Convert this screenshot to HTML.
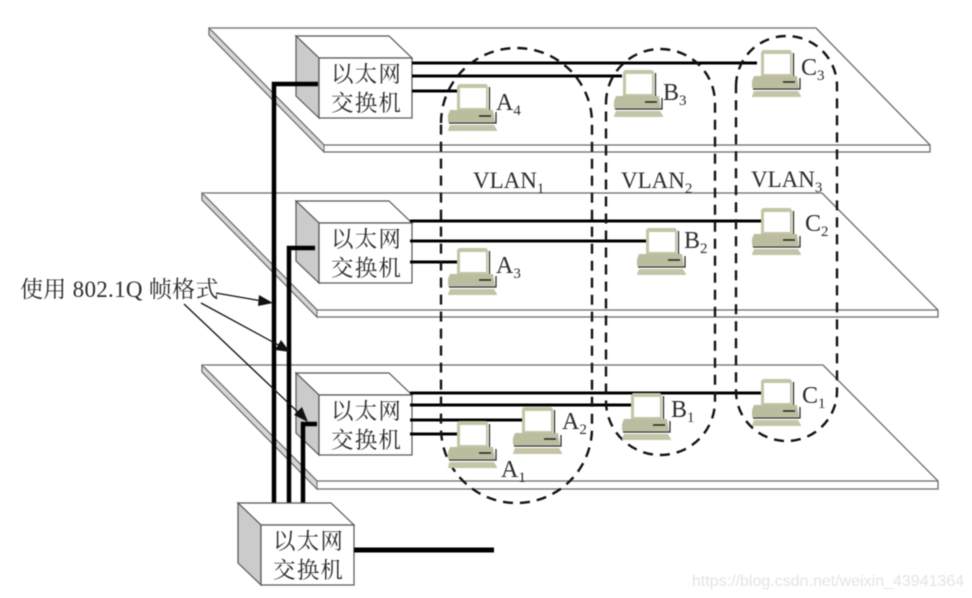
<!DOCTYPE html>
<html><head><meta charset="utf-8">
<style>
html,body{margin:0;padding:0;background:#fff;width:972px;height:598px;overflow:hidden}
svg{display:block}
#all{filter:blur(.45px)}
text{font-family:"Liberation Serif","Noto Serif CJK SC",serif;fill:#2b2b2b}
.cn{font-size:22.5px;letter-spacing:1.2px}
.lb{font-size:24px}
.sub{font-size:15px}
.vl{font-size:23px}
.plate{fill:#fff;stroke:#6a6a6a;stroke-width:1.3}
.dash{fill:none;stroke:#111;stroke-width:2.4;stroke-dasharray:10 7}
.th{stroke:#000;stroke-width:3;fill:none}
.tk{stroke:#000;stroke-width:4.5;fill:none}
.ar{stroke:#111;stroke-width:1.3;fill:none}
</style></head>
<body>
<svg width="972" height="598" viewBox="0 0 972 598" xmlns="http://www.w3.org/2000/svg">
<defs>
<g id="pc">
<polygon points="9,2 11,0 38,0 40,2 40,26 9,26" fill="#c4c5a6"/>
<rect x="12" y="4" width="26" height="20" fill="#fff"/>
<line x1="41.5" y1="3" x2="41.5" y2="26" stroke="#222" stroke-width="1.2"/>
<polygon points="2,26 45,26 47,38 0,38 0,31" fill="#bcbd9f"/>
<path d="M1 39H48V28" fill="none" stroke="#222" stroke-width="1.2"/>
<line x1="31" y1="32" x2="43" y2="32" stroke="#222" stroke-width="1.5"/>
<polygon points="2,41 46,41 49,46 49,47 0,47 0,46" fill="#c4c5a6"/>
</g>
<g id="sw">
<polygon points="0,0 93,0 116,22 23,22" fill="#fff" stroke="#555" stroke-width="1.2"/>
<polygon points="0,0 23,22 23,82 0,60" fill="#cbcbcb" stroke="#555" stroke-width="1.2"/>
<rect x="23" y="22" width="93" height="60" fill="#fff" stroke="#555" stroke-width="1.2"/>
<text class="cn" x="35" y="46">以太网</text>
<text class="cn" x="35" y="75">交换机</text>
</g>
</defs>

<g id="all">
<!-- plates -->
<polygon class="plate" points="209,28 816,28 930,145 930,152 324,152 209,35"/>
<polyline class="plate" points="209,28 324,145 930,145"/>
<polygon points="209,28 324,145 324,152 209,35" fill="#d6d6d6" stroke="#666"/>

<polygon class="plate" points="202,193 822,193 938,310 938,317 317,317 202,200"/>
<polyline class="plate" points="202,193 317,310 938,310"/>
<polygon points="202,193 317,310 317,317 202,200" fill="#d6d6d6" stroke="#666"/>

<polygon class="plate" points="202,365 823,365 938,481 938,489 317,489 202,372"/>
<polyline class="plate" points="202,365 317,481 938,481"/>
<polygon points="202,365 317,481 317,489 202,372" fill="#d6d6d6" stroke="#666"/>

<!-- switches -->
<use href="#sw" x="296" y="36"/>
<use href="#sw" x="296" y="201"/>
<use href="#sw" x="296" y="373"/>

<!-- thin links -->
<path class="th" d="M412 63H757M412 76H622M412 91H458"/>
<path class="th" d="M410 221H762M410 241H646M410 262H458"/>
<path class="th" d="M410 393H762M410 405H632M410 420H522M410 434H458"/>

<!-- trunks -->
<path class="tk" d="M318 84H274V504"/>
<path class="tk" d="M315 248H289V504"/>
<path class="tk" d="M317 424H303V504"/>

<!-- dashed VLANs -->
<path class="dash" d="M441 123A75.500 75 0 0 1 592 123V428A75.500 75 0 0 1 441 428Z"/>
<path class="dash" d="M606 103A54.500 54 0 0 1 715 103V401A54.500 54 0 0 1 606 401Z"/>
<path class="dash" d="M736 86A50.500 50 0 0 1 837 86V391A50.500 50 0 0 1 736 391Z"/>

<!-- computers -->
<use href="#pc" x="448" y="84"/>
<use href="#pc" x="614" y="70"/>
<use href="#pc" x="752" y="50"/>
<use href="#pc" x="448" y="248"/>
<use href="#pc" x="637" y="228"/>
<use href="#pc" x="752" y="208"/>
<use href="#pc" x="448" y="421"/>
<use href="#pc" x="513" y="407"/>
<use href="#pc" x="622" y="393"/>
<use href="#pc" x="752" y="379"/>

<!-- pc labels -->
<text class="lb" x="496" y="110">A<tspan class="sub" dy="5">4</tspan></text>
<text class="lb" x="663" y="100">B<tspan class="sub" dy="5">3</tspan></text>
<text class="lb" x="801" y="75">C<tspan class="sub" dy="5">3</tspan></text>
<text class="lb" x="496" y="273">A<tspan class="sub" dy="5">3</tspan></text>
<text class="lb" x="684" y="248">B<tspan class="sub" dy="5">2</tspan></text>
<text class="lb" x="805" y="231">C<tspan class="sub" dy="5">2</tspan></text>
<text class="lb" x="562" y="429">A<tspan class="sub" dy="5">2</tspan></text>
<text class="lb" x="671" y="417">B<tspan class="sub" dy="5">1</tspan></text>
<text class="lb" x="802" y="403">C<tspan class="sub" dy="5">1</tspan></text>
<text class="lb" x="501" y="477">A<tspan class="sub" dy="5">1</tspan></text>

<text class="vl" x="473" y="188">VLAN<tspan class="sub" dy="5">1</tspan></text>
<text class="vl" x="621" y="188">VLAN<tspan class="sub" dy="5">2</tspan></text>
<text class="vl" x="751" y="187">VLAN<tspan class="sub" dy="5">3</tspan></text>

<!-- callout -->
<text x="20" y="297" style="font-size:23px;letter-spacing:.3px">使用 802.1Q 帧格式</text>
<line class="ar" x1="216" y1="293" x2="262" y2="301"/>
<polygon points="273,303 259,295 258,306" fill="#111"/>
<line class="ar" x1="201" y1="303" x2="282" y2="347"/>
<polygon points="290,352 281,340 275,350" fill="#111"/>
<line class="ar" x1="184" y1="304" x2="300" y2="414"/>
<polygon points="308,422 302,407 294,415" fill="#111"/>

<!-- bottom switch -->
<use href="#sw" x="238" y="503"/>
<line x1="354" y1="550" x2="494" y2="550" stroke="#000" stroke-width="5"/>

<!-- watermark -->
<text x="692" y="586" style="font-family:'Liberation Sans',sans-serif;font-size:16px;fill:#e4e4e4">https://blog.csdn.net/weixin_43941364</text>
</g>
</svg>
</body></html>
